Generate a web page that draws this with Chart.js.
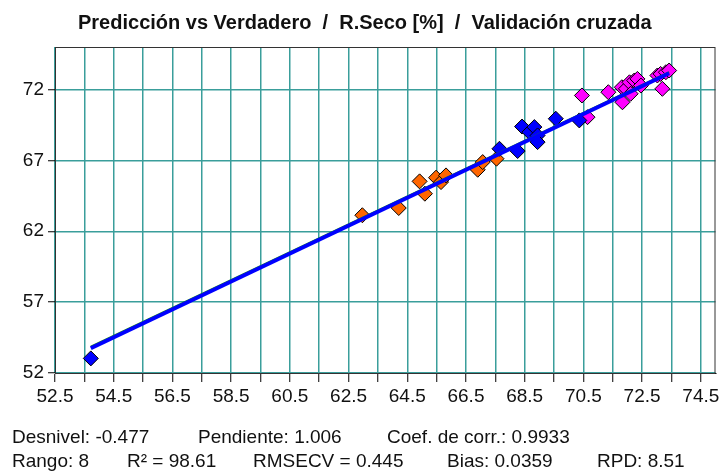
<!DOCTYPE html>
<html>
<head>
<meta charset="utf-8">
<script src="https://cdn.jsdelivr.net/npm/chart.js@4"></script>
<style>
  body { margin: 0; background: #fff; }
</style>
</head>
<body>
<canvas id="grafico" width="724" height="471"></canvas>
<script>
// datos (Verdadero = x, Prediccion = y)
var naranjaX = [62.97, 64.21, 64.92, 65.10, 65.48, 65.65, 65.82, 66.90, 67.07, 67.54]
var naranjaY = [63.13, 63.64, 65.52, 64.65, 65.78, 65.47, 65.94, 66.34, 66.88, 67.12]

var azulX = [53.72, 67.64, 68.26, 68.41, 68.66, 68.83, 68.94, 68.94, 69.56, 70.36]
var azulY = [53.03, 67.82, 67.66, 69.39, 68.99, 69.35, 68.76, 68.29, 69.94, 69.82]

var magentaX = [70.45, 70.64, 71.35, 71.81, 71.83, 71.95, 72.07, 72.11, 72.23, 72.34, 72.46, 73.02, 73.13, 73.19, 73.31, 73.42]
var magentaY = [71.58, 70.05, 71.81, 72.16, 71.10, 72.05, 72.51, 71.70, 72.63, 72.75, 72.28, 72.99, 73.10, 72.05, 73.22, 73.34]

// recta de ajuste y linea verde de fondo
var rectaX = [53.72, 73.42]
var rectaY = [53.75, 73.15]
var verdeY = [53.85, 73.22]

var xTicks = [52.5, 53.5, 54.5, 55.5, 56.5, 57.5, 58.5, 59.5, 60.5, 61.5, 62.5, 63.5, 64.5, 65.5, 66.5, 67.5, 68.5, 69.5, 70.5, 71.5, 72.5, 73.5, 74.5]
var xEtiquetas = ['52.5', '54.5', '56.5', '58.5', '60.5', '62.5', '64.5', '66.5', '68.5', '70.5', '72.5', '74.5']
var yTicks = [52, 57, 62, 67, 72]

var titulo = 'Predicción vs Verdadero  /  R.Seco [%]  /  Validación cruzada'
var fila1 = ['Desnivel: -0.477', 'Pendiente: 1.006', 'Coef. de corr.: 0.9933']
var fila2 = ['Rango: 8', 'R² = 98.61', 'RMSECV = 0.445', 'Bias: 0.0359', 'RPD: 8.51']

function puntos(xs, ys) {
  return xs.map(function (x, i) { return { x: x, y: ys[i] } })
}

var fuente = "'Liberation Sans', Arial, sans-serif"
var rejilla = '#3a9e9b'

var textos = {
  id: 'textos',
  afterDraw: function (chart) {
    var ctx = chart.ctx
    var a = chart.chartArea
    ctx.save()
    ctx.strokeStyle = '#333'
    ctx.lineWidth = 1
    ctx.strokeRect(a.left + 0.5, a.top + 0.5, a.right - a.left - 1, a.bottom - a.top)

    ctx.fillStyle = '#111'
    ctx.textBaseline = 'alphabetic'
    ctx.textAlign = 'left'
    ctx.font = 'bold 20px ' + fuente
    ctx.fillText(titulo, 78, 29)

    ctx.font = '19px ' + fuente
    var x1 = [12, 198, 387]
    fila1.forEach(function (t, i) { ctx.fillText(t, x1[i], 443) })
    var x2 = [12, 127, 253, 447, 597]
    fila2.forEach(function (t, i) { ctx.fillText(t, x2[i], 467) })
    ctx.restore()
  }
}

new Chart(document.getElementById('grafico'), {
  type: 'scatter',
  data: {
    datasets: [
      {
        type: 'line',
        data: puntos(rectaX, rectaY),
        borderColor: '#0000ff',
        borderWidth: 4,
        pointRadius: 0,
        order: 0
      },
      {
        type: 'line',
        data: puntos(rectaX, verdeY),
        borderColor: '#1a8a1a',
        borderWidth: 2,
        pointRadius: 0,
        order: 1
      },
      {
        data: puntos(azulX, azulY),
        backgroundColor: '#0000ff',
        borderColor: '#000',
        borderWidth: 1,
        pointStyle: 'rectRot',
        pointRadius: 7.5,
        order: 2
      },
      {
        data: puntos(naranjaX, naranjaY),
        backgroundColor: '#ff6600',
        borderColor: '#000',
        borderWidth: 1,
        pointStyle: 'rectRot',
        pointRadius: 7.5,
        order: 3
      },
      {
        data: puntos(magentaX, magentaY),
        backgroundColor: '#ff00ff',
        borderColor: '#000',
        borderWidth: 1,
        pointStyle: 'rectRot',
        pointRadius: 7.5,
        order: 4
      }
    ]
  },
  options: {
    responsive: false,
    animation: false,
    events: [],
    layout: { padding: { left: 0, top: 47, right: 8, bottom: 0 } },
    plugins: {
      legend: { display: false },
      tooltip: { enabled: false }
    },
    scales: {
      x: {
        type: 'linear',
        min: 52.5,
        max: 75,
        afterBuildTicks: function (scale) {
          scale.ticks = xTicks.map(function (v) { return { value: v } })
        },
        afterFit: function (scale) { scale.height = 98 },
        ticks: {
          autoSkip: false,
          maxRotation: 0,
          padding: 3,
          color: '#111',
          font: { family: fuente, size: 19 },
          callback: function (v) {
            var t = Number(v).toFixed(1)
            return xEtiquetas.indexOf(t) >= 0 ? t : ''
          }
        },
        grid: { color: rejilla, lineWidth: 1.5, tickColor: '#000', tickLength: 9, tickWidth: 1 },
        border: { color: '#000', width: 1 }
      },
      y: {
        type: 'linear',
        min: 52,
        max: 75,
        afterBuildTicks: function (scale) {
          scale.ticks = yTicks.map(function (v) { return { value: v } })
        },
        afterFit: function (scale) { scale.width = 55 },
        ticks: {
          padding: 4,
          color: '#111',
          font: { family: fuente, size: 19 },
          callback: function (v) { return String(v) }
        },
        grid: { color: rejilla, lineWidth: 1.5, tickColor: '#000', tickLength: 7, tickWidth: 1 },
        border: { color: '#000', width: 1 }
      }
    }
  },
  plugins: [textos]
})
</script>
</body>
</html>
